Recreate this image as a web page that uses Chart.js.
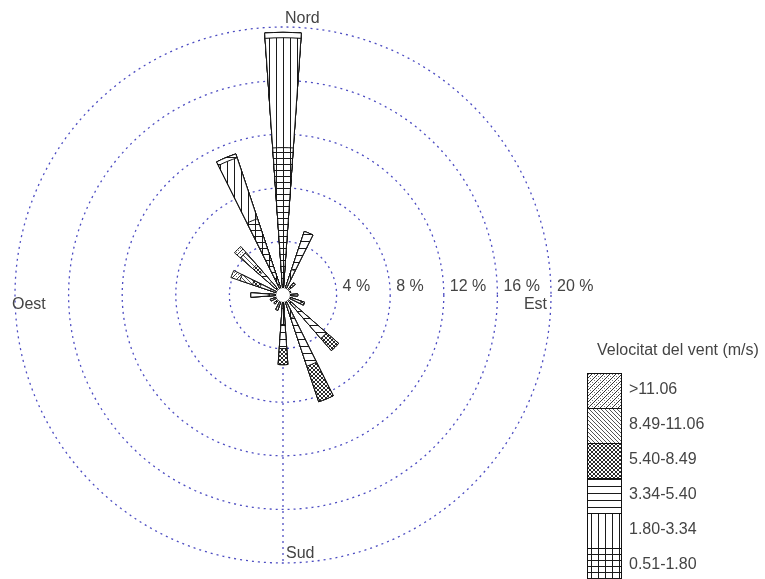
<!DOCTYPE html>
<html>
<head>
<meta charset="utf-8">
<script src="https://cdn.jsdelivr.net/npm/chart.js@4/dist/chart.umd.min.js"></script>
<style>
  html, body { margin: 0; padding: 0; background: #ffffff; }
  #wrap { position: relative; width: 765px; height: 579px; }
</style>
</head>
<body>
<div id="wrap"><canvas id="rose" width="765" height="579"></canvas></div>
<script>
// Wind directions (16 sectors, clockwise from north)
const directions = ['N','NNE','NE','ENE','E','ESE','SE','SSE','S','SSW','SW','WSW','W','WNW','NW','NNW'];
// Wind speed classes (m/s)
const speedClasses = ['0.51-1.80','1.80-3.34','3.34-5.40','5.40-8.49','8.49-11.06','>11.06'];
// Frequency (%) of each speed class per direction
const freq051  = [11.0, 0.8, 0.5, 0.3, 0.4, 0.4, 0.5, 0.6, 1.0, 0.4, 0.3, 0.3, 0.5, 0.4, 0.5, 6.0];
const freq180  = [ 8.2, 1.2, 0.5, 0.3, 0.4, 0.4, 0.8, 1.2, 1.2, 0.5, 0.4, 0.4, 0.6, 0.6, 0.8, 4.8];
const freq334  = [ 0.4, 3.0, 0.2, 0.0, 0.3, 0.6, 3.0, 3.8, 1.8, 0.3, 0.2, 0.3, 1.3, 0.8, 1.0, 0.3];
const freq540  = [ 0.0, 0.0, 0.0, 0.0, 0.0, 0.3, 1.2, 2.8, 1.2, 0.0, 0.0, 0.0, 0.0, 0.6, 0.7, 0.0];
const freq849  = [ 0.0, 0.0, 0.0, 0.0, 0.0, 0.0, 0.0, 0.0, 0.0, 0.0, 0.0, 0.0, 0.0, 1.0, 1.2, 0.0];
const freq1106 = [ 0.0, 0.0, 0.0, 0.0, 0.0, 0.0, 0.0, 0.0, 0.0, 0.0, 0.0, 0.0, 0.0, 0.7, 0.6, 0.0];
// Radial axis
const tickValues = [4, 8, 12, 16, 20];
const tickLabels = ['4 %', '8 %', '12 %', '16 %', '20 %'];
const compassLabels = ['Nord', 'Est', 'Sud', 'Oest'];
const legendTitle = 'Velocitat del vent (m/s)';

const SECTOR = 8;                 // degrees covered by each petal
const GAP = 360 / directions.length - SECTOR;
const FONT = '16px "Liberation Sans", Arial, sans-serif';
const TEXT = '#444444';
const RING = '#4d4dc2';

// ---- fill textures -------------------------------------------------------
function tile(w, h, paint) {
  const c = document.createElement('canvas');
  c.width = w; c.height = h;
  const g = c.getContext('2d');
  g.fillStyle = '#ffffff';
  g.fillRect(0, 0, w, h);
  paint(g);
  return document.getElementById('rose').getContext('2d').createPattern(c, 'repeat');
}
const px = (g, x, y, col) => { g.fillStyle = col || '#1a1a1a'; g.fillRect(x, y, 1, 1); };
const patterns = [
  // 0.51-1.80 : grid
  tile(7, 6, g => { g.fillStyle = '#1a1a1a'; g.fillRect(3, 0, 1, 6); g.fillRect(0, 2, 7, 1); }),
  // 1.80-3.34 : vertical lines
  tile(7, 7, g => { g.fillStyle = '#1a1a1a'; g.fillRect(3, 0, 1, 7); }),
  // 3.34-5.40 : horizontal lines
  tile(7, 7, g => { g.fillStyle = '#1a1a1a'; g.fillRect(0, 3, 7, 1); }),
  // 5.40-8.49 : dense cross hatch
  tile(4, 4, g => { for (let i = 0; i < 4; i++) { px(g, i, i, '#2a2a2a'); px(g, i, 3 - i, '#2a2a2a'); } }),
  // 8.49-11.06 : back diagonal
  tile(4, 4, g => { for (let i = 0; i < 4; i++) px(g, i, i, '#555555'); }),
  // >11.06 : forward diagonal with dotted middle line
  tile(6, 6, g => { for (let i = 0; i < 6; i++) px(g, i, 5 - i, '#333333'); for (let i = 0; i < 6; i += 2) px(g, i, (8 - i) % 6, '#777777'); })
];

// ---- stacked (cumulative) radii, interleaved with empty gap slices ------
const classFreqs = [freq051, freq180, freq334, freq540, freq849, freq1106];
const cumulative = classFreqs.map((_, k) =>
  directions.map((d, i) => classFreqs.slice(0, k + 1).reduce((s, arr) => s + arr[i], 0)));
const withGaps = arr => arr.flatMap(v => [v, 0]);
const sliceLabels = directions.flatMap(d => [d, '']);

const datasets = speedClasses.map((name, k) => ({
  label: name,
  data: withGaps(cumulative[k]),
  backgroundColor: patterns[k],
  borderColor: '#111111',
  borderWidth: ctx => (ctx.dataIndex % 2 ? 0 : 1),
  angle: ctx => (ctx.dataIndex % 2 ? GAP : SECTOR)
}));

// ---- decorations drawn around the rose ----------------------------------
const roseDecor = {
  id: 'roseDecor',
  beforeDatasetsDraw(chart) {
    const s = chart.scales.r, ctx = chart.ctx;
    const R = s.getDistanceFromCenterForValue(s.max);
    ctx.save();
    ctx.strokeStyle = RING;
    ctx.lineWidth = 1.3;
    ctx.setLineDash([2, 4]);
    ctx.beginPath();
    ctx.moveTo(s.xCenter, s.yCenter);
    ctx.lineTo(s.xCenter, s.yCenter + R);
    ctx.stroke();
    ctx.restore();
  },
  afterDatasetsDraw(chart) {
    const s = chart.scales.r, ctx = chart.ctx;
    const cx = s.xCenter, cy = s.yCenter;
    const R = s.getDistanceFromCenterForValue(s.max);
    ctx.save();
    // calm circle
    ctx.fillStyle = '#ffffff';
    ctx.beginPath();
    ctx.arc(cx, cy, 7, 0, Math.PI * 2);
    ctx.fill();

    ctx.font = FONT;
    ctx.fillStyle = TEXT;
    ctx.textBaseline = 'middle';
    // ring labels along the east axis
    ctx.textAlign = 'left';
    tickValues.forEach((v, i) => {
      ctx.fillText(tickLabels[i], cx + s.getDistanceFromCenterForValue(v) + 6, cy - 8);
    });
    // compass points
    ctx.fillText(compassLabels[0], cx + 2, cy - R - 8);
    ctx.textAlign = 'right';
    ctx.fillText(compassLabels[1], cx + R - 4, cy + 10);
    ctx.textAlign = 'left';
    ctx.fillText(compassLabels[2], cx + 3, cy + R - 9);
    ctx.fillText(compassLabels[3], cx - R - 3, cy + 10);

    // speed legend
    const bx = 587, bw = 34, by = 373, bh = 35;
    ctx.fillText(legendTitle, 597, 351);
    chart.data.datasets.forEach((ds, k) => {
      const row = chart.data.datasets.length - 1 - k;
      const y = by + row * bh;
      ctx.fillStyle = ds.backgroundColor;
      ctx.fillRect(bx, y, bw, bh);
      ctx.strokeStyle = '#111111';
      ctx.lineWidth = 1;
      ctx.strokeRect(bx + 0.5, y + 0.5, bw, bh);
      ctx.fillStyle = TEXT;
      ctx.fillText(ds.label, 629, y + bh / 2 - 1);
    });
    ctx.restore();
  }
};

new Chart(document.getElementById('rose'), {
  type: 'polarArea',
  data: { labels: sliceLabels, datasets: datasets },
  options: {
    responsive: false,
    animation: false,
    events: [],
    layout: { padding: { left: 15, top: 27, right: 214, bottom: 16 } },
    scales: {
      r: {
        min: 0,
        max: 20,
        startAngle: -SECTOR / 2,
        ticks: { display: false, stepSize: 4 },
        grid: { color: RING, lineWidth: 1.3, circular: true },
        border: { dash: [2, 4] },
        angleLines: { display: false },
        pointLabels: { display: false }
      }
    },
    plugins: { legend: { display: false }, tooltip: { enabled: false } }
  },
  plugins: [roseDecor]
});
</script>
</body>
</html>
